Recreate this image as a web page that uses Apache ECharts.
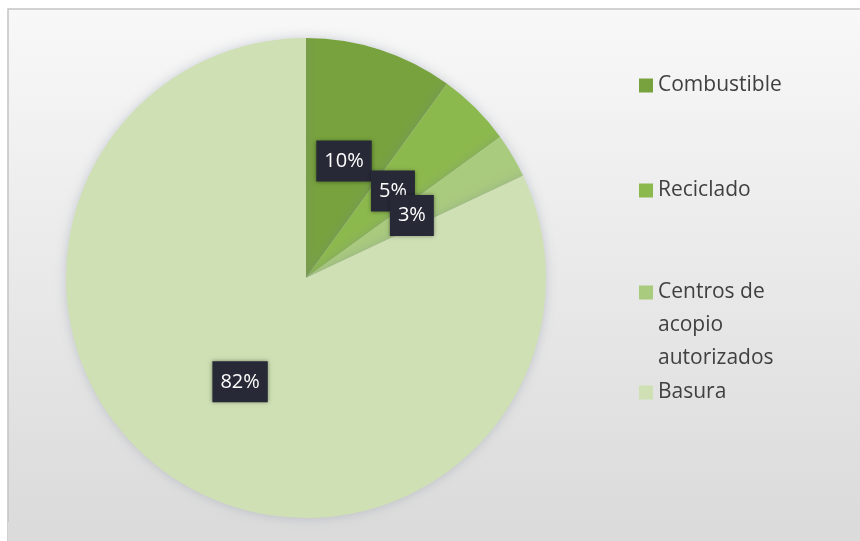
<!DOCTYPE html>
<html>
<head>
<meta charset="utf-8">
<script src="https://cdn.jsdelivr.net/npm/echarts@6/dist/echarts.min.js"></script>
<style>
html,body{margin:0;padding:0;background:#ffffff;}
#chart{width:860px;height:541px;}
</style>
</head>
<body>
<div id="chart"></div>
<script>
var categories = ['Combustible', 'Reciclado', 'Centros de acopio autorizados', 'Basura'];
var values = [10, 5, 3, 82];
var labels = ['10%', '5%', '3%', '82%'];
var colors = ['#77a23d', '#8cb94d', '#a9cb7d', '#cfe0b5'];

var chart = echarts.init(document.getElementById('chart'), null, {renderer: 'canvas'});

var fontFam = '"Open Sans", "Noto Sans", sans-serif';

function legendFor(i, top, extra) {
  var l = {
    data: [categories[i]],
    left: 639,
    top: top,
    orient: 'vertical',
    padding: 0,
    icon: 'rect',
    itemWidth: 14,
    itemHeight: 14,
    selectedMode: false,
    textStyle: {fontFamily: fontFam, fontSize: 21, color: '#404040'}
  };
  if (extra) { Object.assign(l, extra); }
  return l;
}

var option = {
  animation: false,
  backgroundColor: '#ffffff',
  color: colors,
  graphic: [
    {
      type: 'rect', z: -10, silent: true,
      shape: {x: 8, y: 9, width: 860, height: 532},
      style: {
        fill: new echarts.graphic.LinearGradient(0, 0, 0, 1, [
          {offset: 0, color: '#f8f8f8'},
          {offset: 1, color: '#dadada'}
        ]),
        stroke: '#c4c4c4', lineWidth: 1.5
      }
    },
    {
      type: 'rect', z: -9, silent: true,
      shape: {x: 8, y: 522, width: 860, height: 19},
      style: {fill: '#dbdbdb'}
    }
  ],
  legend: [
    legendFor(0, 75),
    legendFor(1, 180),
    legendFor(2, 210, {
      formatter: function () { return '\n\nCentros de\nacopio\nautorizados'; },
      textStyle: {fontFamily: fontFam, fontSize: 21, color: '#404040', lineHeight: 33}
    }),
    legendFor(3, 382)
  ],
  series: [{
    type: 'pie',
    center: [306, 278],
    radius: [0, 240],
    startAngle: 90,
    clockwise: true,
    avoidLabelOverlap: false,
    labelLayout: {hideOverlap: false},
    data: categories.map(function (c, i) {
      return {name: c, value: values[i], itemStyle: {color: colors[i]}};
    }),
    itemStyle: {shadowBlur: 12, shadowColor: 'rgba(120,130,150,0.35)'},
    label: {
      show: true,
      position: 'inside',
      formatter: function (p) { return labels[p.dataIndex]; },
      fontFamily: fontFam,
      fontSize: 20,
      color: '#ffffff',
      backgroundColor: '#272a36',
      padding: [11, 8, 10, 8],
      shadowBlur: 4,
      shadowColor: 'rgba(0,0,0,0.4)'
    },
    labelLine: {show: false},
    emphasis: {disabled: true}
  }]
};
chart.setOption(option);
</script>
</body>
</html>
